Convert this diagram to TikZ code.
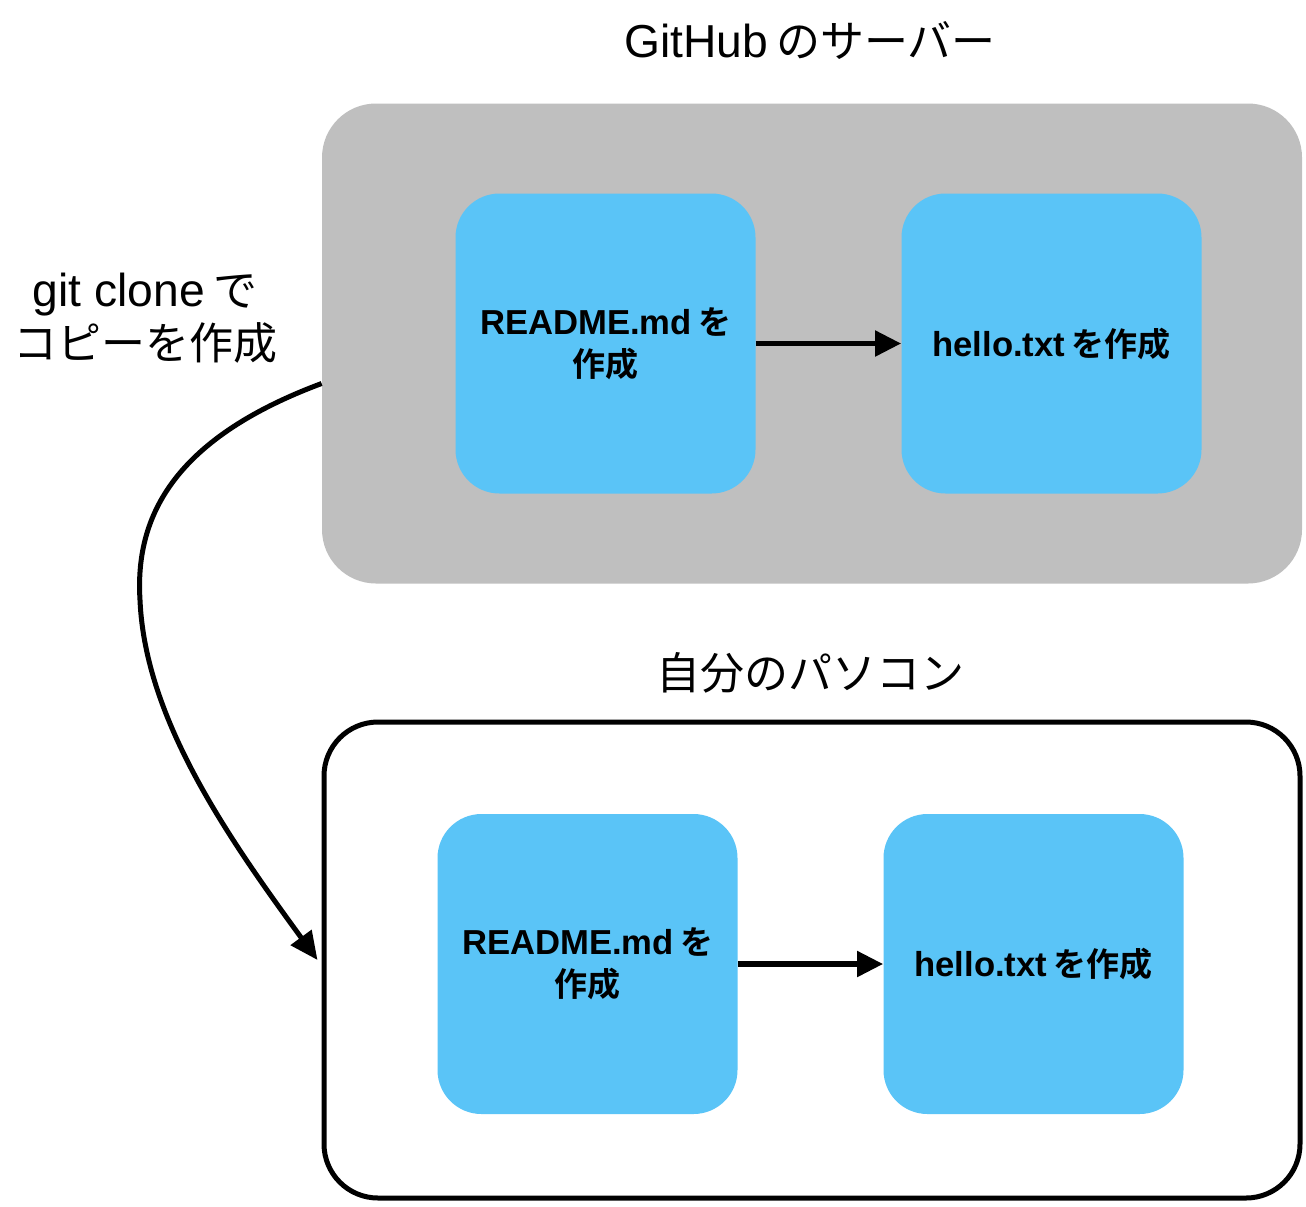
\documentclass[tikz,border=0pt]{standalone}
\usepackage{fontspec}
\setmainfont{Liberation Sans}[Scale=1.05]
\newfontfamily\jp{Noto Sans CJK JP}[BoldFont={Noto Sans CJK JP Bold}]
\newcommand{\jgap}{\hspace{0.18em}}
\usetikzlibrary{arrows.meta}
\definecolor{srvgray}{HTML}{BFBFBF}
\definecolor{boxblue}{HTML}{5AC4F7}
\tikzset{
  container/.style={rectangle, rounded corners=27pt, minimum width=490pt, minimum height=240pt, inner sep=0pt},
  stepbox/.style={rectangle, fill=boxblue, rounded corners=22pt, minimum width=150pt, minimum height=150pt, inner sep=0pt, align=center, font=\bfseries\fontsize{16.5}{21}\selectfont},
  title/.style={font=\fontsize{22}{27}\selectfont, inner sep=0pt},
  flow/.style={line width=2.6pt, -{Triangle[length=13pt,width=12.5pt]}},
  clone/.style={line width=2.5pt, -{Triangle[length=14pt,width=12.5pt]}}
}
\begin{document}
\begin{tikzpicture}[x=0.5pt,y=-0.5pt]
\useasboundingbox (0,0) rectangle (1306,1206);
% containers
\node[container, fill=srvgray] (server) at (812,343.5) {};
\node[container, draw=black, line width=2.5pt, fill=white, minimum width=488pt, minimum height=238pt] (local) at (812,960) {};
% titles
\node[title] (servertitle) at (810,40) {GitHub\jgap{\jp のサーバー}};
\node[title] (localtitle) at (810,673) {\jp 自分のパソコン};
% server steps
\node[stepbox] (s1) at (605.5,343.5) {README.md\jgap{\jp を}\\{\jp 作成}};
\node[stepbox] (s2) at (1051.5,343.5) {hello.txt\jgap{\jp を作成}};
% local steps
\node[stepbox] (l1) at (587.5,964) {README.md\jgap{\jp を}\\{\jp 作成}};
\node[stepbox] (l2) at (1033.5,964) {hello.txt\jgap{\jp を作成}};
% flows
\draw[flow] (s1) -- (s2);
\draw[flow] (l1) -- (l2);
% clone label
\node[align=center, inner sep=0pt, font=\fontsize{22}{26.5}\selectfont] (clonelabel) at (145,318) {git clone\jgap{\jp で}\\{\jp コピーを作成}};
% clone curve
\coordinate (cstart) at ([yshift=-20pt]server.west);
\coordinate (cmid) at (140,600);
\draw[clone] (cstart) .. controls (170,440) and (135,520) .. (cmid)
  .. controls (145,720) and (230,840) .. ([xshift=-2pt]local.west);
\end{tikzpicture}
\end{document}
